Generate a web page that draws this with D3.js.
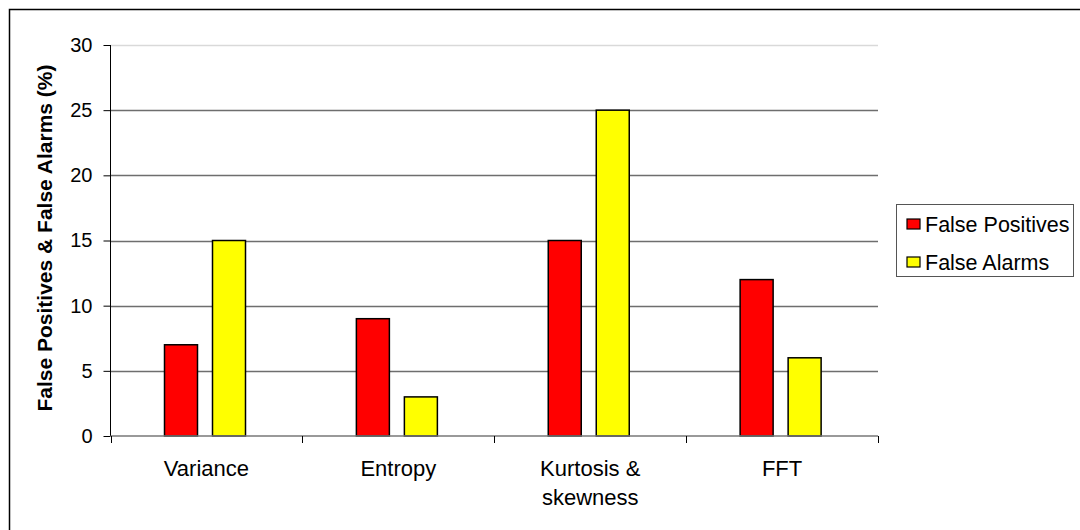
<!DOCTYPE html>
<html>
<head>
<meta charset="utf-8">
<script src="https://cdn.jsdelivr.net/npm/d3@7"></script>
<style>
  html, body { margin: 0; padding: 0; background: #fff; }
  svg { display: block; font-family: "Liberation Sans", Arial, sans-serif; }
</style>
</head>
<body>
<svg id="chart" width="1080" height="530"></svg>
<script>
// Detection methods and their error rates (%)
const categories = ["Variance", "Entropy", "Kurtosis & skewness", "FFT"];
const categoryLines = [["Variance"], ["Entropy"], ["Kurtosis &", "skewness"], ["FFT"]];
const seriesNames = ["False Positives", "False Alarms"];
const falsePositives = [7, 9, 15, 12];
const falseAlarms = [15, 3, 25, 6];
const yTicks = [0, 5, 10, 15, 20, 25, 30];
const colors = ["#ff0000", "#ffff00"];

const svg = d3.select("#chart");
const plot = { left: 110.5, right: 878, top: 45, bottom: 436 };

// Outer frame (extends past the right and bottom edges)
svg.append("rect")
  .attr("x", 9.5).attr("y", 9.5)
  .attr("width", 1090).attr("height", 540)
  .attr("fill", "none").attr("stroke", "#000").attr("stroke-width", 1.5);

const x = d3.scaleBand().domain(categories).range([plot.left, plot.right]).padding(0);
const xInner = d3.scaleBand().domain(seriesNames).range([54, 135]).paddingInner(0.3125).paddingOuter(0);
const y = d3.scaleLinear().domain([0, 30]).range([plot.bottom, plot.top]);

// Horizontal gridlines
svg.append("g").selectAll("line")
  .data(yTicks.filter(t => t > 0))
  .join("line")
  .attr("x1", plot.left).attr("x2", plot.right)
  .attr("y1", d => Math.round(y(d)) + 0.5).attr("y2", d => Math.round(y(d)) + 0.5)
  .attr("stroke", d => d === 30 ? "#d9d9d9" : "#6e6e6e")
  .attr("stroke-width", 1.3);

// Bars
const series = [falsePositives, falseAlarms];
const groups = svg.append("g").selectAll("g")
  .data(categories)
  .join("g")
  .attr("transform", d => `translate(${x(d)},0)`);

groups.selectAll("rect")
  .data((d, i) => seriesNames.map((s, j) => ({ s, j, v: series[j][i] })))
  .join("rect")
  .attr("x", d => xInner(d.s))
  .attr("width", xInner.bandwidth())
  .attr("y", d => y(d.v))
  .attr("height", d => y(0) - y(d.v))
  .attr("fill", d => colors[d.j])
  .attr("stroke", "#000")
  .attr("stroke-width", 1.5);

// Y axis
const yAxis = d3.axisLeft(y).tickValues(yTicks).tickSize(7).tickPadding(11);
const gy = svg.append("g").attr("transform", `translate(${plot.left},0)`).call(yAxis);
gy.select(".domain").attr("stroke", "#000").attr("d", `M0,${plot.top}V${plot.bottom}`);
gy.selectAll(".tick line").attr("stroke", "#000");
gy.selectAll(".tick text").attr("font-size", 20).attr("fill", "#000")
  .attr("font-family", "Liberation Sans, Arial, sans-serif");

// X axis baseline and category dividers
svg.append("line")
  .attr("x1", plot.left).attr("x2", plot.right)
  .attr("y1", plot.bottom).attr("y2", plot.bottom)
  .attr("stroke", "#777").attr("stroke-width", 1.5);

const dividers = categories.map(c => x(c)).concat([plot.right]);
svg.append("g").selectAll("line")
  .data(dividers)
  .join("line")
  .attr("x1", d => Math.round(d) + 0.5).attr("x2", d => Math.round(d) + 0.5)
  .attr("y1", plot.bottom).attr("y2", plot.bottom + 7)
  .attr("stroke", "#000");

// Category labels
const xl = svg.append("g").selectAll("text")
  .data(categories)
  .join("text")
  .attr("x", d => x(d) + x.bandwidth() / 2)
  .attr("y", 476)
  .attr("text-anchor", "middle")
  .attr("font-size", 22)
  .attr("fill", "#000");
xl.each(function(d, i) {
  d3.select(this).selectAll("tspan")
    .data(categoryLines[i])
    .join("tspan")
    .attr("x", x(d) + x.bandwidth() / 2)
    .attr("dy", (t, k) => k === 0 ? 0 : 29)
    .text(t => t);
});

// Y axis title
svg.append("text")
  .attr("transform", "translate(52,238) rotate(-90)")
  .attr("text-anchor", "middle")
  .attr("font-size", 21)
  .attr("font-weight", "bold")
  .attr("fill", "#000")
  .text("False Positives & False Alarms (%)");

// Legend
const legend = svg.append("g");
legend.append("rect")
  .attr("x", 896.5).attr("y", 204.5)
  .attr("width", 177).attr("height", 72)
  .attr("fill", "#fff").attr("stroke", "#555").attr("stroke-width", 1);

const items = legend.selectAll("g.item")
  .data(seriesNames)
  .join("g")
  .attr("class", "item")
  .attr("transform", (d, i) => `translate(907,${219 + i * 38})`);
items.append("rect")
  .attr("width", 13).attr("height", 10)
  .attr("fill", (d, i) => colors[i])
  .attr("stroke", "#000").attr("stroke-width", 1.2);
items.append("text")
  .attr("x", 18).attr("y", 5)
  .attr("dy", "0.36em")
  .attr("font-size", 21.5)
  .attr("fill", "#000")
  .text(d => d);
</script>
</body>
</html>
